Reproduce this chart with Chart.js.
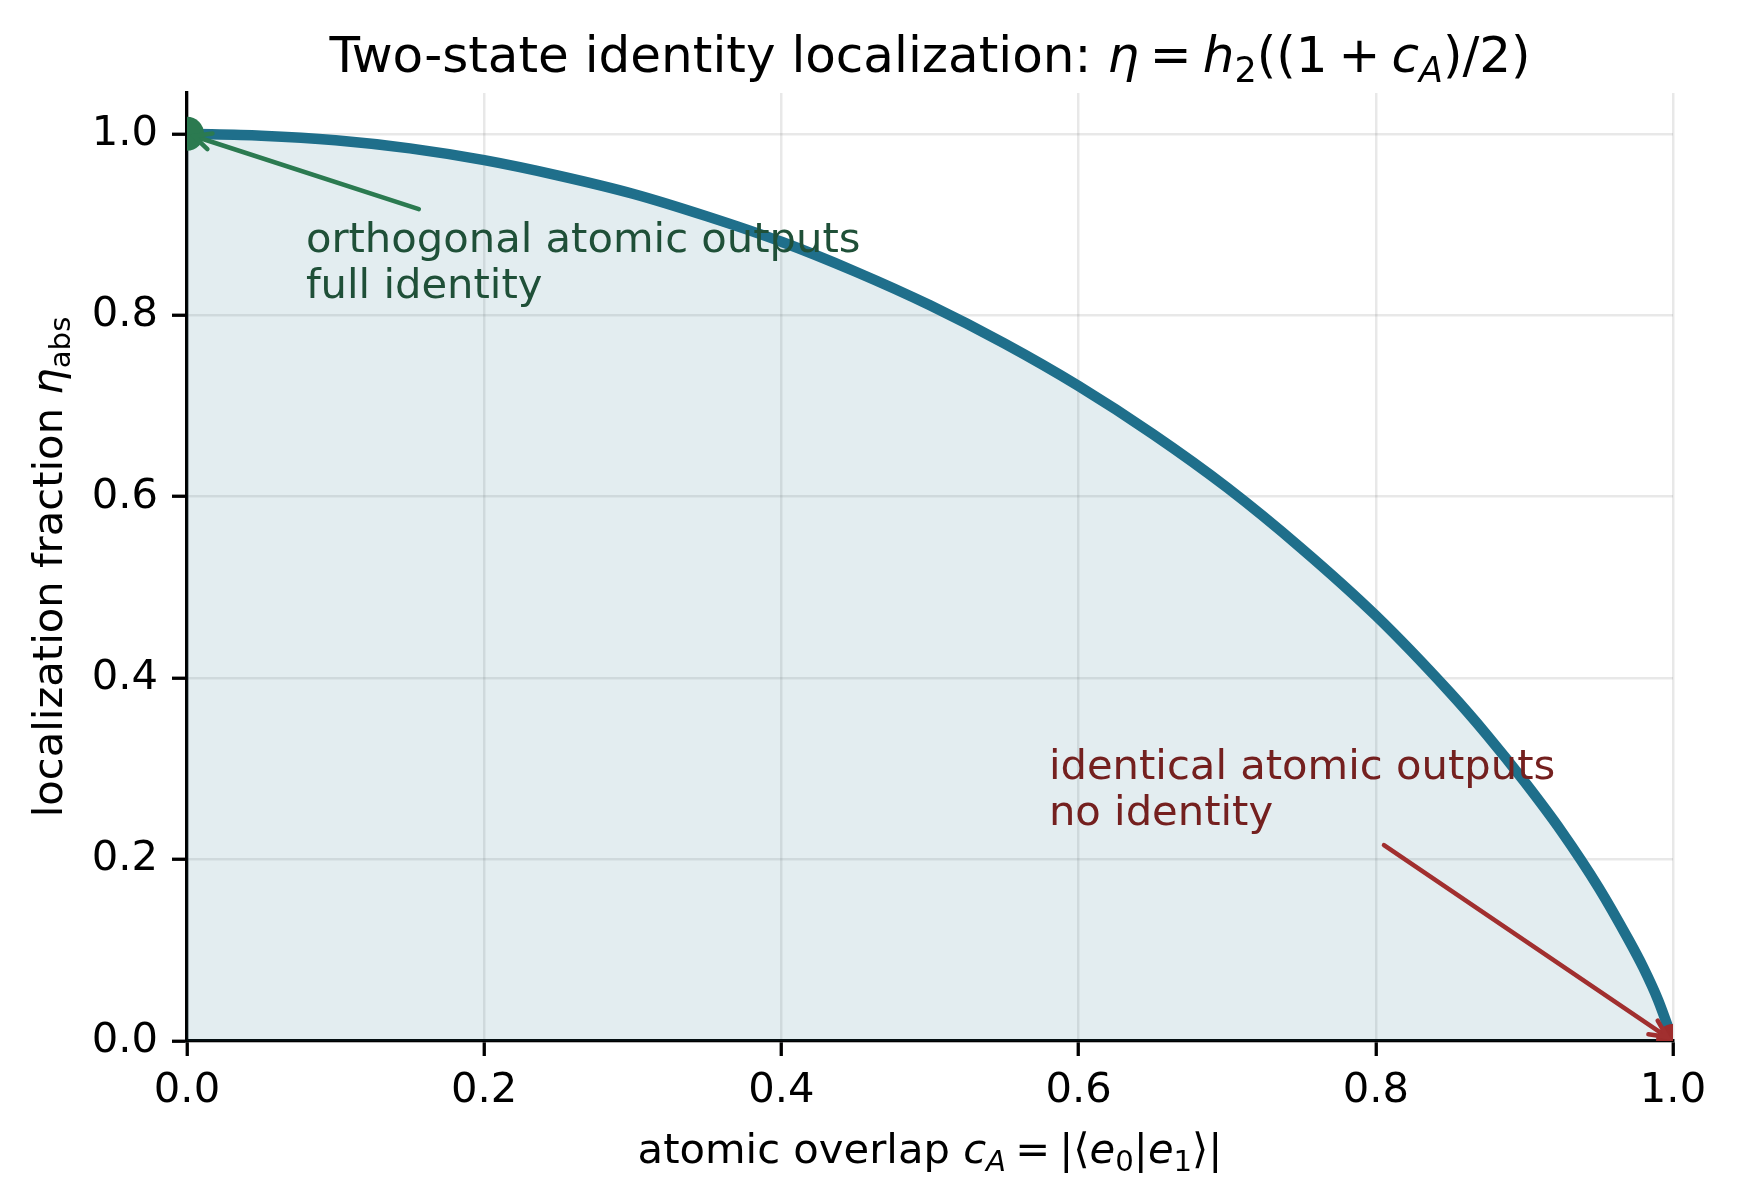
<!DOCTYPE html>
<html>
<head>
<meta charset="utf-8">
<script src="https://cdn.jsdelivr.net/npm/chart.js@4.4.1/dist/chart.umd.min.js"></script>
<style>
html, body { margin: 0; padding: 0; background: #fff; }
#wrap { width: 1737px; height: 1203px; position: relative; }
</style>
</head>
<body>
<div id="wrap"><canvas id="eta"></canvas></div>
<script>
// values
var overlap = [0, 0.05, 0.1, 0.15, 0.2, 0.25, 0.3, 0.35, 0.4, 0.45, 0.5, 0.55, 0.6, 0.65, 0.7, 0.75, 0.8, 0.85, 0.875, 0.9, 0.925, 0.95, 0.97, 0.98, 0.99, 1.0];
var etaAbs  = [1.0, 0.998, 0.993, 0.984, 0.971, 0.954, 0.934, 0.909, 0.881, 0.848, 0.811, 0.769, 0.722, 0.669, 0.61, 0.543, 0.469, 0.384, 0.337, 0.286, 0.231, 0.169, 0.112, 0.081, 0.045, 0.0];

var fullX = [0], fullY = [1];   // orthogonal outputs
var noneX = [1], noneY = [0];   // identical outputs

var xTicks = [0, 0.2, 0.4, 0.6, 0.8, 1.0];
var yTicks = [0, 0.2, 0.4, 0.6, 0.8, 1.0];

// annotation anchors (data coords)
var noteFull = { lines: ['orthogonal atomic outputs', 'full identity'], text: [0.08, 0.87], tail: [0.156, 0.917], head: [0, 1] };
var noteNone = { lines: ['identical atomic outputs', 'no identity'], text: [0.58, 0.289], tail: [0.8055, 0.216], head: [1, 0] };

var FONT = '"DejaVu Sans", sans-serif';
var FS = 41.7;

function pts(xs, ys) {
  var out = [];
  for (var i = 0; i < xs.length; i++) out.push({ x: xs[i], y: ys[i] });
  return out;
}

function segFont(s, size) {
  var sz = s.sub ? size * 0.7 : size;
  return (s.it ? 'oblique ' : '') + sz + 'px ' + FONT;
}
function segWidth(ctx, s, size) {
  if (s.gap) return s.gap * size;
  ctx.font = segFont(s, size);
  return ctx.measureText(s.t).width;
}
function drawRich(ctx, segs, x, y, size, align, color) {
  var w = 0;
  segs.forEach(function(s) { w += segWidth(ctx, s, size); });
  var cx = align === 'center' ? x - w / 2 : x;
  ctx.fillStyle = color;
  ctx.textBaseline = 'alphabetic';
  ctx.textAlign = 'left';
  segs.forEach(function(s) {
    if (!s.gap) {
      ctx.font = segFont(s, size);
      ctx.fillText(s.t, cx, y + (s.sub ? size * 0.2 : 0));
    }
    cx += segWidth(ctx, s, size);
  });
}

var G = { gap: 0.22 };  // mathtext spacing around = and +
var titleSegs = [
  { t: 'Two-state identity localization: ' }, { t: '\u03b7', it: 1 }, G, { t: '=' }, G,
  { t: 'h', it: 1 }, { t: '2', sub: 1 }, { t: '((1' }, G, { t: '+' }, G, { t: 'c', it: 1 }, { t: 'A', it: 1, sub: 1 }, { t: ')/2)' }
];
var xLabelSegs = [
  { t: 'atomic overlap ' }, { t: 'c', it: 1 }, { t: 'A', it: 1, sub: 1 }, G, { t: '=' }, G, { t: '|\u27e8' },
  { t: 'e', it: 1 }, { t: '0', sub: 1 }, { t: '|' }, { t: 'e', it: 1 }, { t: '1', sub: 1 }, { t: '\u27e9|' }
];
var yLabelSegs = [ { t: 'localization fraction ' }, { t: '\u03b7', it: 1 }, { t: 'abs', sub: 1 } ];

function arrow(ctx, x0, y0, x1, y1, color) {
  var a = Math.atan2(y1 - y0, x1 - x0);
  // shrink end a little, like matplotlib's shrinkB
  x1 -= 7 * Math.cos(a); y1 -= 7 * Math.sin(a);
  ctx.strokeStyle = color;
  ctx.lineWidth = 4.5;
  ctx.lineCap = 'round';
  ctx.beginPath(); ctx.moveTo(x0, y0); ctx.lineTo(x1, y1); ctx.stroke();
  var L = 19, w = 0.45;
  ctx.beginPath();
  ctx.moveTo(x1 - L * Math.cos(a - w), y1 - L * Math.sin(a - w));
  ctx.lineTo(x1, y1);
  ctx.lineTo(x1 - L * Math.cos(a + w), y1 - L * Math.sin(a + w));
  ctx.stroke();
}

var labels = {
  id: 'labels',
  afterDraw: function(chart) {
    var ctx = chart.ctx, a = chart.chartArea;
    ctx.save();
    drawRich(ctx, titleSegs, (a.left + a.right) / 2, 72, 50, 'center', '#000');
    drawRich(ctx, xLabelSegs, (a.left + a.right) / 2, 1163, FS, 'center', '#000');
    ctx.translate(62, (a.top + a.bottom) / 2);
    ctx.rotate(-Math.PI / 2);
    drawRich(ctx, yLabelSegs, 0, 0, FS, 'center', '#000');
    ctx.restore();
  },
  afterDatasetsDraw: function(chart) {
    var ctx = chart.ctx, xs = chart.scales.x, ys = chart.scales.y;
    ctx.save();
    [[noteFull, '#2b7a50', '#1f5038'], [noteNone, '#a12f2f', '#74201f']].forEach(function(n) {
      var note = n[0];
      arrow(ctx, xs.getPixelForValue(note.tail[0]), ys.getPixelForValue(note.tail[1]),
            xs.getPixelForValue(note.head[0]), ys.getPixelForValue(note.head[1]), n[1]);
      ctx.font = FS + 'px ' + FONT;
      ctx.fillStyle = n[2];
      ctx.textAlign = 'left';
      ctx.textBaseline = 'alphabetic';
      note.lines.forEach(function(line, i) {
        ctx.fillText(line, xs.getPixelForValue(note.text[0]), ys.getPixelForValue(note.text[1]) + i * 46.5);
      });
    });
    ctx.restore();
  }
};

var gridStyle = {
  color: 'rgba(0,0,0,0.09)',
  lineWidth: 2.5,
  drawTicks: true,
  tickLength: 15,
  tickColor: '#000',
  tickWidth: 3.3
};

window.onload = function() {
  var ctx = document.getElementById('eta').getContext('2d');
  window.etaChart = new Chart(ctx, {
    type: 'scatter',
    data: {
      datasets: [{
        data: pts(fullX, fullY),
        backgroundColor: '#2b7a50',
        borderWidth: 0,
        pointRadius: 17,
        clip: 0
      }, {
        data: pts(noneX, noneY),
        backgroundColor: '#9e2c2c',
        borderWidth: 0,
        pointRadius: 17,
        clip: 0
      }, {
        data: pts(overlap, etaAbs),
        showLine: true,
        borderColor: '#1f6f8b',
        borderWidth: 10.5,
        backgroundColor: 'rgba(31,111,139,0.125)',
        fill: 'origin',
        pointRadius: 0,
        cubicInterpolationMode: 'monotone',
        clip: 0
      }]
    },
    options: {
      responsive: true,
      maintainAspectRatio: false,
      animation: false,
      layout: { padding: { top: 93, right: 64, left: 0, bottom: 0 } },
      plugins: { legend: { display: false }, tooltip: { enabled: false } },
      scales: {
        x: {
          type: 'linear', min: 0, max: 1,
          afterFit: function(s) { s.height = 162; },
          afterBuildTicks: function(s) { s.ticks = xTicks.map(function(v) { return { value: v }; }); },
          ticks: { color: '#000', font: { family: FONT, size: FS }, padding: 10, maxRotation: 0,
                   callback: function(v) { return v.toFixed(1); } },
          grid: gridStyle,
          border: { display: true, color: '#000', width: 3.3 }
        },
        y: {
          type: 'linear', min: 0, max: 1.045,
          afterFit: function(s) { s.width = 187; },
          afterBuildTicks: function(s) { s.ticks = yTicks.map(function(v) { return { value: v }; }); },
          ticks: { color: '#000', font: { family: FONT, size: FS }, padding: 14,
                   callback: function(v) { return v.toFixed(1); } },
          grid: gridStyle,
          border: { display: true, color: '#000', width: 3.3 }
        }
      }
    },
    plugins: [labels]
  });
};
</script>
</body>
</html>
